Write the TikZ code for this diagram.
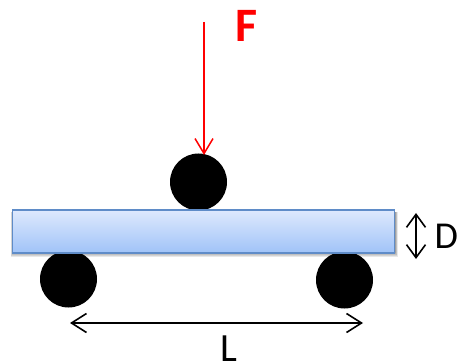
\documentclass[tikz,border=0pt]{standalone}
\usepackage{fontspec}
\setmainfont{Carlito}
\usetikzlibrary{arrows.meta}
\definecolor{barTop}{RGB}{222,233,253}
\definecolor{barBot}{RGB}{160,195,248}
\definecolor{barLine}{RGB}{95,140,200}
\tikzset{
  ball/.style={circle,fill=black,minimum size=57pt,inner sep=0pt},
  dim/.style={draw=black,line width=1.6pt},
  lab/.style={inner sep=0pt,anchor=base west,font=\fontsize{40pt}{40pt}\selectfont}
}
\begin{document}
\begin{tikzpicture}[x=1pt,y=-1pt]
\useasboundingbox (0,0) rectangle (457,363);
\node[ball] (top) at (198.5,182) {};
\node[ball] (left) at (68.5,279) {};
\node[ball] (right) at (344.5,280) {};
\foreach \i in {0,1,2,3,4,5}
  \fill[black,opacity=0.09] (13-\i*0.5,212) rectangle (395+\i*0.5,252.5+\i*0.9);
\node[draw=barLine,line width=1.3pt,top color=barTop,bottom color=barBot,minimum width=382pt,minimum height=43pt,inner sep=0pt] (bar) at (203.5,231.5) {};
\coordinate (ftop) at (204,22);
\coordinate (fend) at (204,155);
\draw[red,line width=1.4pt,-{Straight Barb[length=15pt,width=18pt,line width=1.5pt]}] (ftop) -- (fend);
\node[lab,text=red,font=\fontsize{48pt}{48pt}\selectfont\bfseries] (f) at (235,42) {F};
\coordinate (da) at (416,213);
\coordinate (db) at (416,259);
\draw[dim,{Straight Barb[length=13pt,width=19pt,line width=1.6pt]}-{Straight Barb[length=13pt,width=19pt,line width=1.6pt]}] (da) -- (db);
\node[lab,font=\fontsize{38pt}{38pt}\selectfont] (d) at (434.5,248) {D};
\coordinate (la) at (70,323);
\coordinate (lb) at (363,323);
\draw[dim,{Straight Barb[length=15pt,width=19pt,line width=1.6pt]}-{Straight Barb[length=15pt,width=19pt,line width=1.6pt]}] (la) -- (lb);
\node[lab] (l) at (220.5,361) {L};
\end{tikzpicture}
\end{document}
